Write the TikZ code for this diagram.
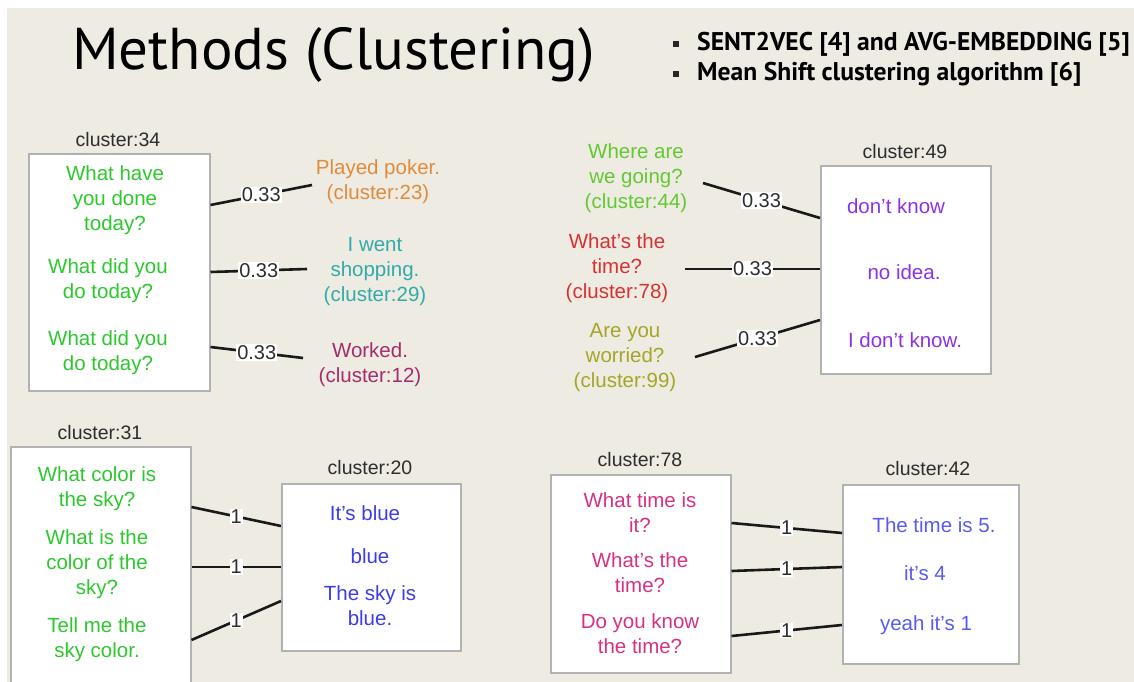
\documentclass[tikz,border=0pt]{standalone}
\usepackage{fontspec}
\setmainfont{Liberation Sans}
\newfontfamily\titlefont{PT Sans}
\definecolor{bg}{RGB}{238,235,227}
\definecolor{txtgray}{RGB}{45,45,45}
\definecolor{qgreen}{RGB}{45,200,45}
\definecolor{corange}{RGB}{225,140,60}
\definecolor{cteal}{RGB}{50,170,170}
\definecolor{cplum}{RGB}{165,45,110}
\definecolor{clime}{RGB}{100,200,50}
\definecolor{cred}{RGB}{215,50,50}
\definecolor{colive}{RGB}{165,165,40}
\definecolor{cpurple}{RGB}{140,50,230}
\definecolor{cblue}{RGB}{60,60,235}
\definecolor{cpink}{RGB}{215,50,130}
\definecolor{cblue2}{RGB}{90,90,240}
\tikzset{
  clbox/.style={draw=gray!60, line width=1.5pt, fill=white, anchor=north west, inner sep=0pt},
  clabel/.style={text=txtgray, inner sep=0pt, font=\fontsize{19.5}{22}\selectfont},
  txt/.style={align=center, inner sep=0pt, font=\fontsize{20.5}{25}\selectfont},
  link/.style={line width=2.6pt, black!90},
  elab/.style={fill=white, text=txtgray, inner sep=1pt, font=\fontsize{20}{22}\selectfont},
  bullet/.style={fill=black!85, minimum size=6pt, inner sep=0pt},
}
\begin{document}
\begin{tikzpicture}[x=1pt,y=-1pt]
\useasboundingbox (0,0) rectangle (1134,682);
\fill[white] (0,0) rectangle (1134,682);
\fill[bg] (7,8) rectangle (1134,682);

% heading and bullet list
\node[anchor=base west, inner sep=0pt] (title) at (72,70)
  {\titlefont\fontsize{59}{62}\selectfont Methods (Clustering)};
\node[bullet] (bu1) at (676,44) {};
\node[bullet] (bu2) at (676,74) {};
\node[anchor=base west, inner sep=0pt] (li1) at (697,51)
  {\titlefont\bfseries\fontsize{25.6}{30}\selectfont SENT2VEC [4] and AVG-EMBEDDING [5]};
\node[anchor=base west, inner sep=0pt] (li2) at (697,81)
  {\titlefont\bfseries\fontsize{25.6}{30}\selectfont Mean Shift clustering algorithm [6]};

% ---- cluster 34 ----
\node[clbox, minimum width=181pt, minimum height=237pt] (c34) at (28,153) {};
\node[clabel] (l34) at (118,140) {cluster:34};
\node[txt, text=qgreen] (q1) at (115,200) {What have\\you done\\today?};
\node[txt, text=qgreen] (q2) at (108,281) {What did you\\do today?};
\node[txt, text=qgreen] (q3) at (108,353) {What did you\\do today?};
\node[txt, text=corange] (r1) at (378,182) {Played poker.\\(cluster:23)};
\node[txt, text=cteal] (r2) at (375,272) {I went\\shopping.\\(cluster:29)};
\node[txt, text=cplum] (r3) at (370,365) {Worked.\\(cluster:12)};
\coordinate (e1) at (312,185);
\coordinate (e2) at (307,269);
\coordinate (e3) at (303,358);
\draw[link] (c34.east |- 0,205) -- node[elab] {0.33} (e1);
\draw[link] (c34.east |- 0,272) -- node[elab] {0.33} (e2);
\draw[link] (c34.east |- 0,347) -- node[elab] {0.33} (e3);

% ---- cluster 49 ----
\node[clbox, minimum width=170pt, minimum height=208pt] (c49) at (820,165) {};
\node[clabel] (l49) at (905,152) {cluster:49};
\node[txt, text=cpurple] (a1) at (896,206) {don't know};
\node[txt, text=cpurple] (a2) at (904,272) {no idea.};
\node[txt, text=cpurple] (a3) at (905,340) {I don't know.};
\node[txt, text=clime] (s1) at (636,178) {Where are\\we going?\\(cluster:44)};
\node[txt, text=cred] (s2) at (617,268) {What's the\\time?\\(cluster:78)};
\node[txt, text=colive] (s3) at (625,358) {Are you\\worried?\\(cluster:99)};
\coordinate (f1) at (703,183);
\coordinate (f2) at (685,269);
\coordinate (f3) at (695,357);
\draw[link] (f1) -- node[elab] {0.33} (c49.west |- 0,218);
\draw[link] (f2) -- node[elab] {0.33} (c49.west |- 0,269);
\draw[link] (f3) -- node[elab] {0.33} (c49.west |- 0,320);

% ---- cluster 31 -> cluster 20 ----
\node[clbox, minimum width=180pt, minimum height=250pt] (c31) at (10,446) {};
\node[clabel] (l31) at (100,433) {cluster:31};
\node[txt, text=qgreen] (p1) at (97,489) {What color is\\the sky?};
\node[txt, text=qgreen] (p2) at (97,564) {What is the\\color of the\\sky?};
\node[txt, text=qgreen] (p3) at (97,640) {Tell me the\\sky color.};
\node[clbox, minimum width=179pt, minimum height=167pt] (c20) at (281,483) {};
\node[clabel] (l20) at (370,468) {cluster:20};
\node[txt, text=cblue] (b1) at (365,513) {It's blue};
\node[txt, text=cblue] (b2) at (370,556) {blue};
\node[txt, text=cblue] (b3) at (370,606) {The sky is\\blue.};
\draw[link] (c31.east |- 0,507) -- node[elab] {1} (c20.west |- 0,526);
\draw[link] (c31.east |- 0,567) -- node[elab] {1} (c20.west |- 0,567);
\draw[link] (c31.east |- 0,640) -- node[elab] {1} (c20.west |- 0,601);

% ---- cluster 78 -> cluster 42 ----
\node[clbox, minimum width=180pt, minimum height=198pt] (c78) at (550,474) {};
\node[clabel] (l78) at (640,460) {cluster:78};
\node[txt, text=cpink] (t1) at (640,513) {What time is\\it?};
\node[txt, text=cpink] (t2) at (640,573) {What's the\\time?};
\node[txt, text=cpink] (t3) at (640,634) {Do you know\\the time?};
\node[clbox, minimum width=176pt, minimum height=179pt] (c42) at (842,484) {};
\node[clabel] (l42) at (928,469) {cluster:42};
\node[txt, text=cblue2] (u1) at (934,525) {The time is 5.};
\node[txt, text=cblue2] (u2) at (925,573) {it's 4};
\node[txt, text=cblue2] (u3) at (926,625) {yeah it's 1};
\draw[link] (c78.east |- 0,523) -- node[elab] {1} (c42.west |- 0,533);
\draw[link] (c78.east |- 0,571) -- node[elab] {1} (c42.west |- 0,567);
\draw[link] (c78.east |- 0,636) -- node[elab] {1} (c42.west |- 0,625);
\end{tikzpicture}
\end{document}
